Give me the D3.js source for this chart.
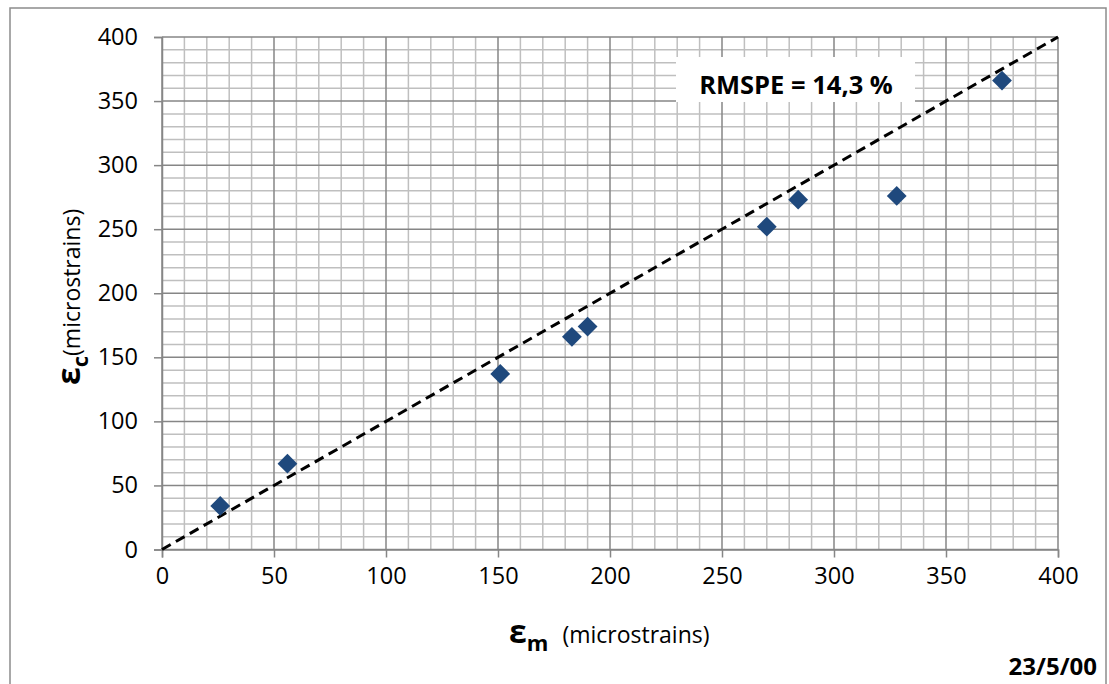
<!DOCTYPE html>
<html><head><meta charset="utf-8">
<script src="https://cdn.jsdelivr.net/npm/d3@7"></script>
<style>body{margin:0;background:#fff}svg{display:block}text{font-family:"Open Sans",sans-serif}</style>
</head><body><svg id="c" width="1109" height="684"></svg>
<script>
const measured = [26, 56, 151, 183, 190, 270, 284, 328, 375];
const computed = [34, 67, 137, 166, 174, 252, 273, 276, 366];
const xTicks = [0, 50, 100, 150, 200, 250, 300, 350, 400];
const yTicks = [0, 50, 100, 150, 200, 250, 300, 350, 400];
const lineOfEquality = [[0, 0], [400, 400]];
const annotation = "RMSPE = 14,3 %";
const dateLabel = "23/5/00";

const svg = d3.select("#c");
const L = 162, R = 1058, T = 37, B = 549.5;
const x = d3.scaleLinear().domain([0, 400]).range([L, R]);
const y = d3.scaleLinear().domain([0, 400]).range([B, T]);

svg.append("rect").attr("x", 10).attr("y", 8).attr("width", 1096).attr("height", 700)
  .attr("fill", "#fff").attr("stroke", "#8c8c8c").attr("stroke-width", 1.5);

const minor = d3.range(0, 401, 10);
const g = svg.append("g");
g.selectAll(".vm").data(minor.filter(d => d % 50)).join("line")
  .attr("x1", d => x(d)).attr("x2", d => x(d)).attr("y1", T).attr("y2", B)
  .attr("stroke", "#bfbfbf").attr("stroke-width", 1.5);
g.selectAll(".hm").data(minor.filter(d => d % 50)).join("line")
  .attr("y1", d => y(d)).attr("y2", d => y(d)).attr("x1", L).attr("x2", R)
  .attr("stroke", "#bfbfbf").attr("stroke-width", 1.5);
g.selectAll(".vM").data(xTicks).join("line")
  .attr("x1", d => x(d)).attr("x2", d => x(d)).attr("y1", T).attr("y2", B)
  .attr("stroke", "#868686").attr("stroke-width", 1.5);
g.selectAll(".hM").data(yTicks).join("line")
  .attr("y1", d => y(d)).attr("y2", d => y(d)).attr("x1", L).attr("x2", R)
  .attr("stroke", "#868686").attr("stroke-width", 1.5);

const xa = svg.append("g").attr("transform", `translate(0,${B})`)
  .call(d3.axisBottom(x).tickValues(xTicks).tickSize(8).tickPadding(10).tickFormat(d3.format("d")));
const ya = svg.append("g").attr("transform", `translate(${L},0)`)
  .call(d3.axisLeft(y).tickValues(yTicks).tickSize(8).tickPadding(16).tickFormat(d3.format("d")));
[xa, ya].forEach(a => {
  a.select(".domain").attr("stroke", "#868686").attr("stroke-width", 1.5);
  a.selectAll(".tick line").attr("stroke", "#868686").attr("stroke-width", 1.5);
  a.selectAll(".tick text").attr("font-size", 23.5).attr("fill", "#000").attr("font-family", "Open Sans");
});

// annotation box
svg.append("rect").attr("x", 676).attr("y", 57).attr("width", 239).attr("height", 45).attr("fill", "#fff");
svg.append("text").attr("x", 796).attr("y", 94).attr("text-anchor", "middle")
  .attr("font-size", 25.5).attr("font-weight", "bold").text(annotation);

// dashed line
svg.append("path").datum(lineOfEquality)
  .attr("d", d3.line().x(d => x(d[0])).y(d => y(d[1])))
  .attr("stroke", "#000").attr("stroke-width", 3).attr("stroke-dasharray", "10,6").attr("fill", "none");

// points
const pts = measured.map((m, i) => [m, computed[i]]);
svg.selectAll(".pt").data(pts).join("path")
  .attr("d", d3.symbol(d3.symbolDiamond2, 250)())
  .attr("transform", d => `translate(${x(d[0])},${y(d[1])})`)
  .attr("fill", "#1F497D");

// axis titles
const xt = svg.append("text").attr("x", 509).attr("y", 643);
xt.append("tspan").attr("font-size", 32).attr("font-weight", "bold").text("ε");
xt.append("tspan").attr("font-size", 22).attr("font-weight", "bold").attr("dy", 8).text("m");
xt.append("tspan").attr("font-size", 23).attr("dy", -8).attr("dx", 14).text("(microstrains)");

const yt = svg.append("text").attr("transform", "translate(80,385) rotate(-90)");
yt.append("tspan").attr("font-size", 32).attr("font-weight", "bold").text("ε");
yt.append("tspan").attr("font-size", 22).attr("font-weight", "bold").attr("dy", 8).text("c");
yt.append("tspan").attr("font-size", 23).attr("dy", -8).attr("dx", 0).text("(microstrains)");

svg.append("text").attr("x", 1097).attr("y", 675).attr("text-anchor", "end")
  .attr("font-size", 24).attr("font-weight", "bold").text(dateLabel);
</script></body></html>
